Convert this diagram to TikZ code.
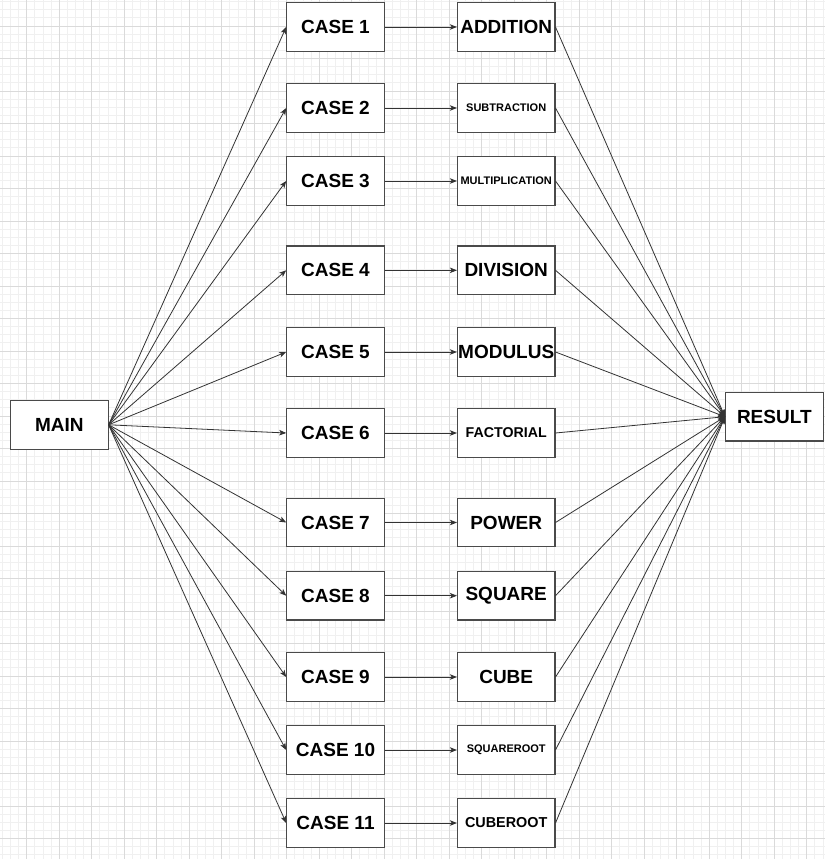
\documentclass[tikz,border=0pt]{standalone}
\usepackage{fontspec}
\setmainfont{Liberation Sans}
\usetikzlibrary{arrows.meta}
\definecolor{minorg}{HTML}{F0F0F0}
\definecolor{majorg}{HTML}{DADADA}
\definecolor{boxline}{HTML}{4A4A4A}
\definecolor{arrline}{HTML}{333333}
\tikzset{
  minorgrid/.style={draw=minorg, line width=0.8pt},
  majorgrid/.style={draw=majorg, line width=0.9pt},
  box/.style={draw=boxline, fill=white, line width=1.1pt, minimum width=97.5pt, minimum height=48.6pt, inner sep=0pt, font=\bfseries},
  big/.style={font=\bfseries\fontsize{19}{22}\selectfont},
  mid/.style={font=\bfseries\fontsize{14.4}{17}\selectfont},
  small/.style={font=\bfseries\fontsize{11}{13}\selectfont},
  arr/.style={draw=arrline, line width=0.8pt, -{Stealth[length=7pt,width=5.5pt,inset=1.8pt]}},
}
\begin{document}
\begin{tikzpicture}[x=1pt,y=-1pt]
\useasboundingbox (0,0) rectangle (825,859);
\fill[white] (0,0) rectangle (825,859);
% grid
\foreach \i in {-3,...,98} { \draw[minorgrid] ({26.67+8.125*\i},0) -- ({26.67+8.125*\i},859); }
\foreach \i in {-3,...,102} { \draw[minorgrid] (0,{26+8.125*\i}) -- (825,{26+8.125*\i}); }
\foreach \i in {0,...,24} { \draw[majorgrid] ({26.67+32.5*\i},0) -- ({26.67+32.5*\i},859); }
\foreach \i in {0,...,25} { \draw[majorgrid] (0,{26+32.5*\i}) -- (825,{26+32.5*\i}); }

% main and result
\node[box,big] (main) at (59.3,424.8) {MAIN};
\node[box,big] (result) at (774.3,416.7) {RESULT};

% cases
\node[box,big] (c1) at (335.5,27) {CASE 1};
\node[box,big] (c2) at (335.5,108) {CASE 2};
\node[box,big] (c3) at (335.5,181) {CASE 3};
\node[box,big] (c4) at (335.5,270.3) {CASE 4};
\node[box,big] (c5) at (335.5,352) {CASE 5};
\node[box,big] (c6) at (335.5,433) {CASE 6};
\node[box,big] (c7) at (335.5,522.5) {CASE 7};
\node[box,big] (c8) at (335.5,595.7) {CASE 8};
\node[box,big] (c9) at (335.5,677) {CASE 9};
\node[box,big] (c10) at (335.5,750) {CASE 10};
\node[box,big] (c11) at (335.5,823) {CASE 11};

% operations
\node[box,big] (o1) at (506.2,27) {ADDITION};
\node[box,small] (o2) at (506.2,108) {SUBTRACTION};
\node[box,small] (o3) at (506.2,181) {MULTIPLICATION};
\node[box,big] (o4) at (506.2,270.3) {DIVISION};
\node[box,big] (o5) at (506.2,352) {MODULUS};
\node[box,mid,font=\bfseries\fontsize{14.2}{17}\selectfont] (o6) at (506.2,433) {FACTORIAL};
\node[box,big] (o7) at (506.2,522.5) {POWER};
\node[box,big] (o8) at (506.2,595.7) {SQUARE};
\node[box,big] (o9) at (506.2,677) {CUBE};
\node[box,small] (o10) at (506.2,750) {SQUAREROOT};
\node[box,mid] (o11) at (506.2,823) {CUBEROOT};

% connectors
\foreach \k in {1,...,11} {
  \draw[arr] (main.east) -- (c\k.west);
  \draw[arr] (c\k.east) -- (o\k.west);
  \draw[arr] (o\k.east) -- (result.west);
}
\end{tikzpicture}
\end{document}
